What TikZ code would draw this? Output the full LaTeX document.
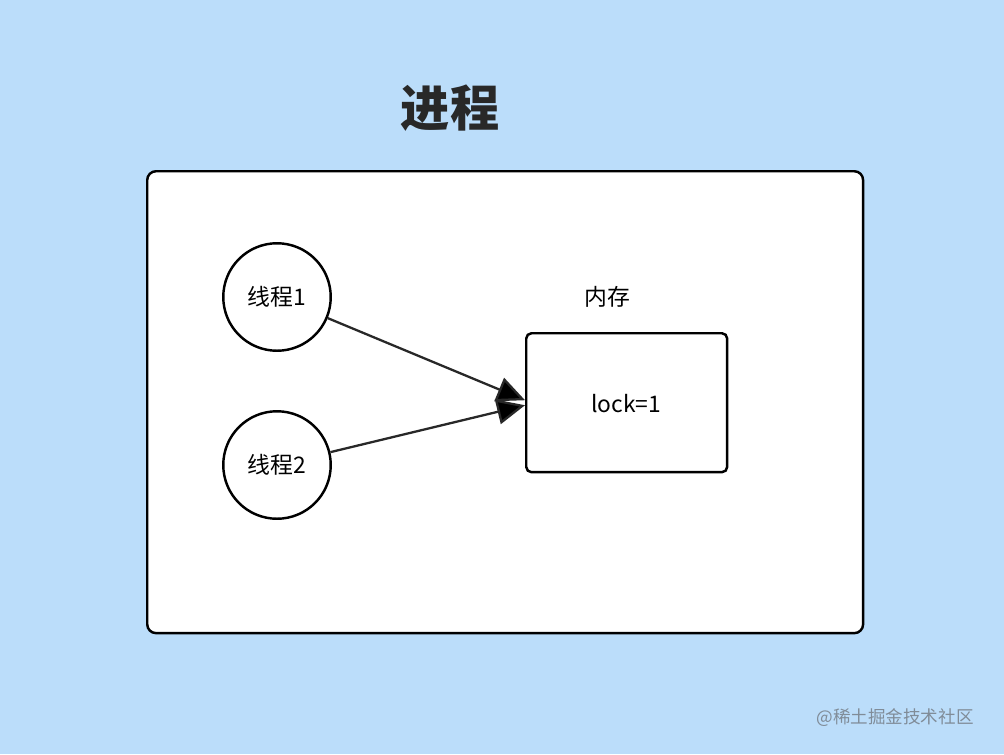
\documentclass[tikz,border=0pt]{standalone}
\usepackage{fontspec}
\setmainfont{Noto Sans CJK SC}
\usetikzlibrary{arrows.meta}
\definecolor{bgblue}{RGB}{187,221,250}
\definecolor{markgray}{RGB}{128,140,152}
\definecolor{inkgray}{RGB}{40,40,40}

\begin{document}
\begin{tikzpicture}[
        x=0.02cm, y=-0.02cm,
        >={Triangle[length=0.56cm, width=0.5cm]},
        roundnode/.style={circle, draw=black, line width=1.4pt, fill=white, minimum size=2.15cm, inner sep=0pt, font=\fontsize{13}{15}\selectfont},
        boxnode/.style={draw=black, line width=1.4pt, fill=white, rounded corners=3pt},
        textnode/.style={font=\fontsize{13}{15}\selectfont}
    ]

        % Background
        \fill[bgblue] (0,0) rectangle (1004,754);
        \useasboundingbox (0,0) rectangle (1004,754);

        \node [font=\fontsize{28}{32}\selectfont\bfseries, text=inkgray] (Title) at (450,108) {进程};
        \node [boxnode, rounded corners=5pt, minimum width=14.32cm, minimum height=9.24cm, anchor=north west] (Process) at (146,170) {};

        \node [roundnode] (Thread1) at (277,297) {线程1};
        \node [roundnode] (Thread2) at (277,465) {线程2};

        \node [boxnode, minimum width=4.02cm, minimum height=2.78cm, anchor=north west] (Memory) at (525,332) {};
        \node [textnode] (Lock) at (626,404) {lock=1};
        \node [textnode] (MemLabel) at (607,297) {内存};

        % Arrows into the memory box
        \path[->, line width=1.3pt, draw=inkgray] (Thread1) edge ([yshift=0.05cm]Memory.west) ;
        \path[->, line width=1.3pt, draw=inkgray] (Thread2) edge ([yshift=-0.05cm]Memory.west) ;

        \node [text=markgray, font=\fontsize{10}{12}\selectfont] (Mark) at (895,718) {@稀土掘金技术社区};

    \end{tikzpicture}
\end{document}
